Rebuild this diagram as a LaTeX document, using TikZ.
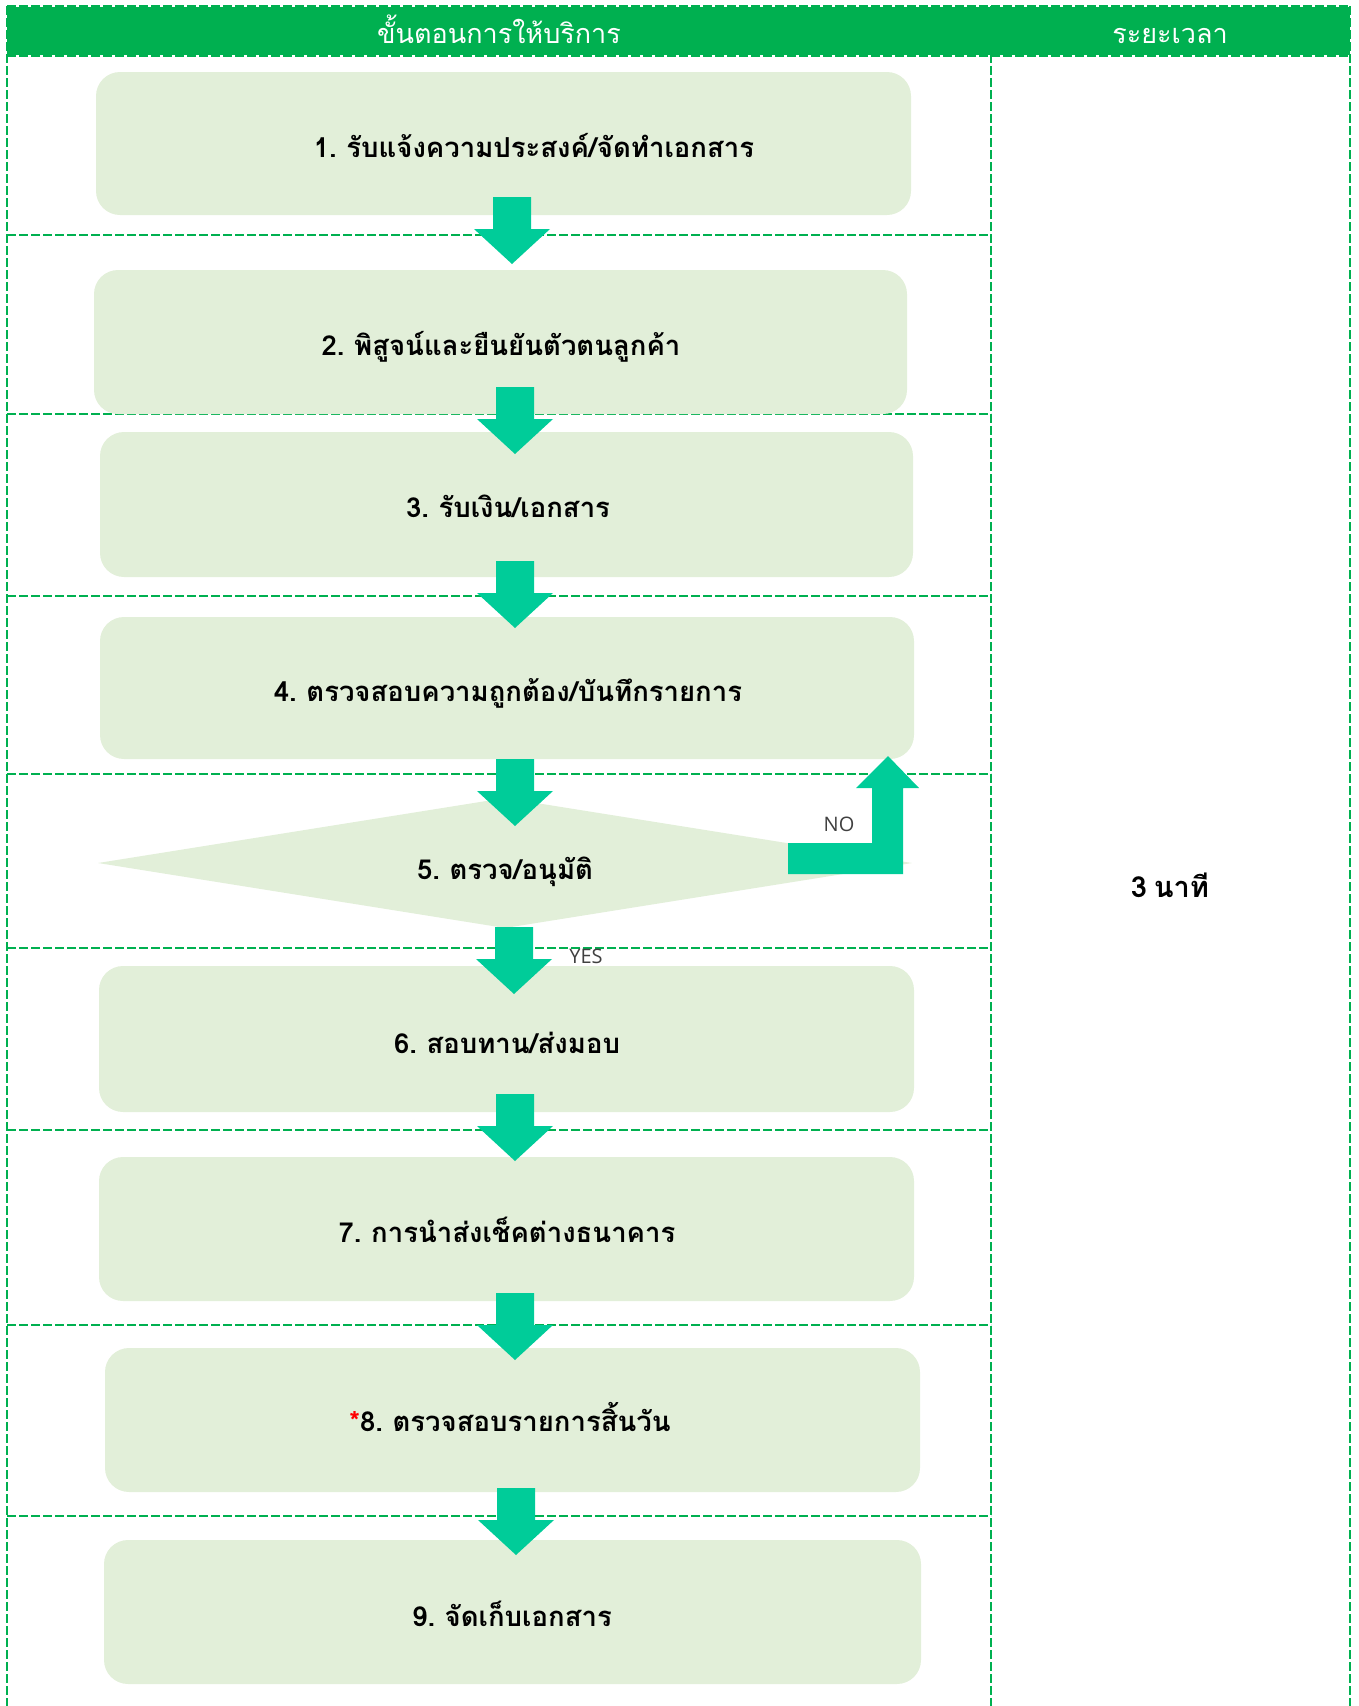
\documentclass[tikz,border=0pt]{standalone}
\usepackage{fontspec}
\newfontfamily\thai[Script=Thai, WordSpace=0.7]{Loma}
\newfontfamily\latinthin{Open Sans}
\definecolor{hdrgreen}{HTML}{00B050}
\definecolor{arrowc}{HTML}{00CC99}
\definecolor{boxfill}{HTML}{E2EFD9}
\definecolor{labgray}{HTML}{404040}
\tikzset{
  sep/.style={draw=hdrgreen, line width=2pt, dash pattern=on 9pt off 3pt},
  stepbox/.style={fill=boxfill, rounded corners=24pt},
  steptext/.style={font=\thai\bfseries\fontsize{27.5}{32}\selectfont, anchor=base, inner sep=0pt, text=black},
  hdrtext/.style={font=\thai\fontsize{27}{30}\selectfont, anchor=base, inner sep=0pt, text=white},
  yesno/.style={font=\latinthin\fontsize{20}{24}\selectfont, anchor=base, inner sep=0pt, text=labgray},
  downarr/.pic={\fill[arrowc] (-19,0) -- (19,0) -- (19,32) -- (38,32) -- (0,67) -- (-38,32) -- (-19,32) -- cycle;}
}
\begin{document}
\begin{tikzpicture}[x=1pt,y=-1pt]
\useasboundingbox (0,0) rectangle (1358,1706);
% header band
\fill[hdrgreen] (7,6) rectangle (1350,56);
\draw[white, line width=2pt] (7,6) -- (1350,6);
\draw[white, line width=2pt] (7,56) -- (1350,56);
\draw[sep] (7,6) -- (1350,6);
\draw[sep] (7,56) -- (1350,56);
% vertical lines
\draw[sep] (7,6) -- (7,1706);
\draw[sep] (991,6) -- (991,1706);
\draw[sep] (1350,6) -- (1350,1706);
% row separators
\foreach \yy in {235,414,596,774,948,1130,1325,1516} {\draw[sep] (7,\yy) -- (991,\yy);}
% header texts
\node[hdrtext] (h1) at (499,43) {ขั้นตอนการให้บริการ};
\node[hdrtext] (h2) at (1170,43) {ระยะเวลา};
% boxes
\fill[stepbox] (96,72) rectangle (911,215);
\coordinate (b1) at (503,143);
\fill[stepbox] (94,270) rectangle (907,414);
\coordinate (b2) at (500,342);
\fill[stepbox] (100,432) rectangle (913,577);
\coordinate (b3) at (506,504);
\fill[stepbox] (100,617) rectangle (914,759);
\coordinate (b4) at (507,688);
\fill[boxfill] (98,863) -- (505,798) -- (912,863) -- (505,928) -- cycle;
\coordinate (b5) at (505,863);
\fill[stepbox] (99,966) rectangle (914,1112);
\coordinate (b6) at (506,1039);
\fill[stepbox] (99,1157) rectangle (914,1301);
\coordinate (b7) at (506,1229);
\fill[stepbox] (105,1348) rectangle (920,1492);
\coordinate (b8) at (512,1420);
\fill[stepbox] (104,1540) rectangle (921,1684);
\coordinate (b9) at (512,1612);
% texts
\node[steptext] (t1) at (534,157) {1. รับแจ้งความประสงค์/จัดทำเอกสาร};
\node[steptext] (t2) at (501,355) {2. พิสูจน์และยืนยันตัวตนลูกค้า};
\node[steptext] (t3) at (508,517) {3. รับเงิน/เอกสาร};
\node[steptext] (t4) at (508,701) {4. ตรวจสอบความถูกต้อง/บันทึกรายการ};
\node[steptext] (t5) at (505,879) {5. ตรวจ/อนุมัติ};
\node[steptext] (t6) at (507,1053) {6. สอบทาน/ส่งมอบ};
\node[steptext] (t7) at (507,1242) {7. การนำส่งเช็คต่างธนาคาร};
\node[steptext] (t8) at (510,1431) {{\color{red}*}8. ตรวจสอบรายการสิ้นวัน};
\node[steptext] (t9) at (512,1626) {9. จัดเก็บเอกสาร};
\node[steptext, font=\thai\bfseries\fontsize{29}{32}\selectfont] (time) at (1170,897) {3 นาที};
% arrows
\pic at (512,197) {downarr};
\pic at (515,387) {downarr};
\pic at (515,561) {downarr};
\pic at (515,759) {downarr};
\pic at (514,927) {downarr};
\pic at (515,1094) {downarr};
\pic at (515,1293) {downarr};
\pic at (516,1488) {downarr};
% NO arrow
\fill[arrowc] (788,843) -- (872,843) -- (872,788) -- (856,788) -- (888,756) -- (919,788) -- (903,788) -- (903,874) -- (788,874) -- cycle;
\node[yesno] (no) at (839,831) {NO};
\node[yesno] (yes) at (586,963) {YES};
\end{tikzpicture}
\end{document}
